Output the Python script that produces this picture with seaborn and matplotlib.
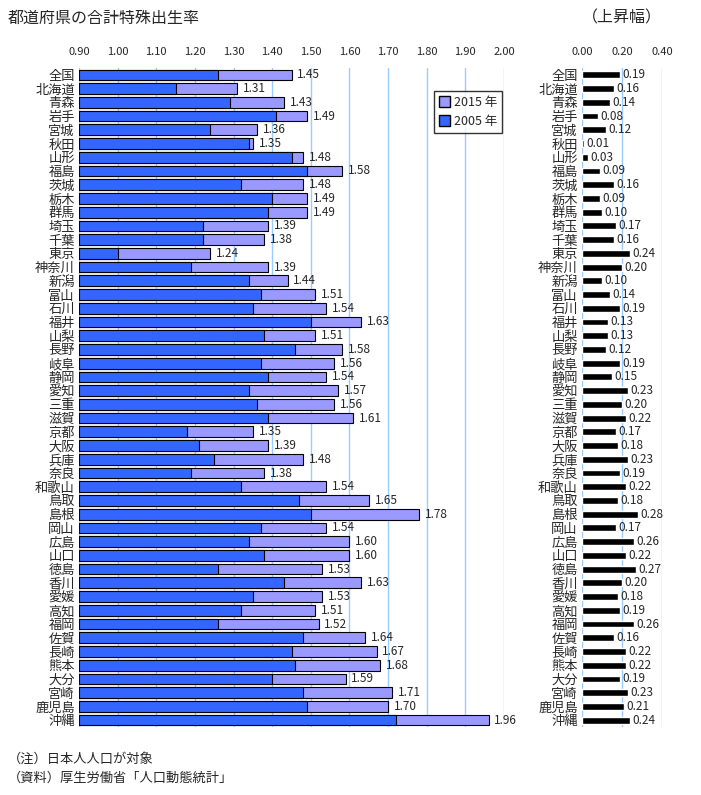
import matplotlib
matplotlib.use("Agg")
import matplotlib.pyplot as plt
import pandas as pd
import seaborn as sns
from matplotlib.patches import Patch

prefectures = [
    "全国", "北海道", "青森", "岩手", "宮城", "秋田", "山形", "福島", "茨城", "栃木",
    "群馬", "埼玉", "千葉", "東京", "神奈川", "新潟", "富山", "石川", "福井", "山梨",
    "長野", "岐阜", "静岡", "愛知", "三重", "滋賀", "京都", "大阪", "兵庫", "奈良",
    "和歌山", "鳥取", "島根", "岡山", "広島", "山口", "徳島", "香川", "愛媛", "高知",
    "福岡", "佐賀", "長崎", "熊本", "大分", "宮崎", "鹿児島", "沖縄",
]
rate_2015 = [
    1.45, 1.31, 1.43, 1.49, 1.36, 1.35, 1.48, 1.58, 1.48, 1.49,
    1.49, 1.39, 1.38, 1.24, 1.39, 1.44, 1.51, 1.54, 1.63, 1.51,
    1.58, 1.56, 1.54, 1.57, 1.56, 1.61, 1.35, 1.39, 1.48, 1.38,
    1.54, 1.65, 1.78, 1.54, 1.60, 1.60, 1.53, 1.63, 1.53, 1.51,
    1.52, 1.64, 1.67, 1.68, 1.59, 1.71, 1.70, 1.96,
]
increase = [
    0.19, 0.16, 0.14, 0.08, 0.12, 0.01, 0.03, 0.09, 0.16, 0.09,
    0.10, 0.17, 0.16, 0.24, 0.20, 0.10, 0.14, 0.19, 0.13, 0.13,
    0.12, 0.19, 0.15, 0.23, 0.20, 0.22, 0.17, 0.18, 0.23, 0.19,
    0.22, 0.18, 0.28, 0.17, 0.26, 0.22, 0.27, 0.20, 0.18, 0.19,
    0.26, 0.16, 0.22, 0.22, 0.19, 0.23, 0.21, 0.24,
]
left_ticks = [0.90, 1.00, 1.10, 1.20, 1.30, 1.40, 1.50, 1.60, 1.70, 1.80, 1.90, 2.00]
right_ticks = [0.00, 0.20, 0.40]

df = pd.DataFrame({"pref": prefectures, "y2015": rate_2015, "inc": increase})
df["y2005"] = (df["y2015"] - df["inc"]).round(2)

sns.set_style("white")
plt.rcParams["font.family"] = ["Noto Sans CJK JP", "DejaVu Sans"]

c2015 = "#9999ff"
c2005 = "#3366ff"
grid_c = "#99ccff"

fig = plt.figure(figsize=(7.01, 7.95), dpi=100)
ax = fig.add_axes([79 / 701, 1 - 727 / 795, 425 / 701, 659 / 795])
ax2 = fig.add_axes([582 / 701, 1 - 727 / 795, 80 / 701, 659 / 795])

# left panel: 2015 behind, 2005 in front
sns.barplot(data=df, x="y2015", y="pref", ax=ax, color=c2015, edgecolor="black",
            linewidth=0.8, width=0.78, saturation=1, zorder=3)
sns.barplot(data=df, x="y2005", y="pref", ax=ax, color=c2005, edgecolor="black",
            linewidth=0.8, width=0.78, saturation=1, zorder=4)
for p in ax.patches:
    w = p.get_width()
    p.set_x(0.9)
    p.set_width(w - 0.9)

ax.set_xlim(0.9, 2.0)
ax.set_ylim(len(df) - 0.5, -0.5)
ax.set_xticks(left_ticks)
ax.set_xticklabels([f"{t:.2f}" for t in left_ticks], fontsize=8)
ax.xaxis.tick_top()
ax.tick_params(axis="both", length=0, pad=8)
ax.tick_params(axis="y", pad=3, labelsize=9.5)
for t in left_ticks:
    ax.axvline(t, color=grid_c, lw=1, zorder=1)
for s in ax.spines.values():
    s.set_visible(False)
ax.set_xlabel("")
ax.set_ylabel("")
for i, v in enumerate(df["y2015"]):
    ax.text(v + 0.015, i, f"{v:.2f}", va="center", ha="left", fontsize=8.5)

handles = [Patch(facecolor=c2015, edgecolor="black", label="2015 年"),
           Patch(facecolor=c2005, edgecolor="black", label="2005 年")]
leg = ax.legend(handles=handles, loc="upper left", bbox_to_anchor=(0.82, 0.975),
                fontsize=9, frameon=True, fancybox=False, edgecolor="black",
                handlelength=0.9, handleheight=0.9, handletextpad=0.3,
                borderpad=0.4, labelspacing=0.5)
leg.get_frame().set_linewidth(1)
leg.set_zorder(6)

# right panel: increase
sns.barplot(data=df, x="inc", y="pref", ax=ax2, color="black", width=0.5,
            saturation=1, zorder=3)
ax2.set_xlim(0, 0.4)
ax2.set_ylim(len(df) - 0.5, -0.5)
ax2.set_xticks(right_ticks)
ax2.set_xticklabels([f"{t:.2f}" for t in right_ticks], fontsize=8)
ax2.xaxis.tick_top()
ax2.tick_params(axis="both", length=0, pad=8)
ax2.tick_params(axis="y", pad=3, labelsize=9.5)
for t in right_ticks:
    ax2.axvline(t, color=grid_c, lw=1, zorder=1)
for s in ax2.spines.values():
    s.set_visible(False)
ax2.set_xlabel("")
ax2.set_ylabel("")
for i, v in enumerate(df["inc"]):
    ax2.text(v + 0.01, i, f"{v:.2f}", va="center", ha="left", fontsize=8.5)

fig.text(8 / 701, 1 - 18 / 795, "都道府県の合計特殊出生率", fontsize=11.5, va="center", ha="left")
fig.text(582 / 701, 1 - 18 / 795, "（上昇幅）", fontsize=11.5, va="center", ha="left")
fig.text(8 / 701, 1 - 759 / 795, "（注）日本人人口が対象", fontsize=9.5, va="center", ha="left")
fig.text(8 / 701, 1 - 778 / 795, "（資料）厚生労働省「人口動態統計」", fontsize=9.5, va="center", ha="left")

fig.savefig("out.png", dpi=100)
